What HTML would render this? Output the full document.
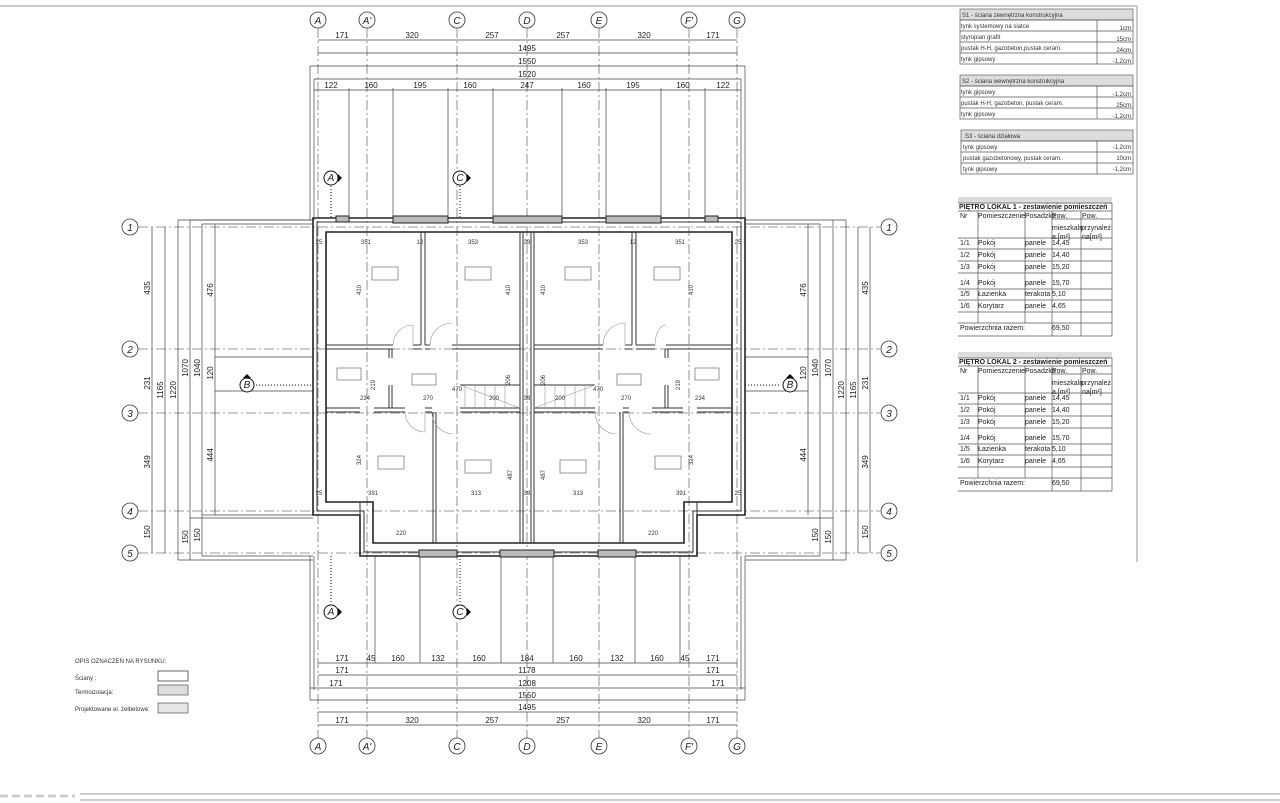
<!DOCTYPE html>
<html><head><meta charset="utf-8"><style>
html,body{margin:0;padding:0;background:#fff;width:1280px;height:803px;overflow:hidden}
svg{display:block;font-family:"Liberation Sans",sans-serif}
.t{font-size:8px;fill:#222}
.s{font-size:6px;fill:#333}
.ax{stroke:#777;stroke-width:.8;stroke-dasharray:10 3 2 3;fill:none}
.d{stroke:#444;stroke-width:.7;fill:none}
.w{stroke:#222;stroke-width:1.6;fill:none}
.w2{stroke:#333;stroke-width:1;fill:none}
.b{fill:#fff;stroke:#333;stroke-width:.8}
.bt{font-size:10px;font-style:italic;fill:#222;text-anchor:middle}
.tb{fill:none;stroke:#555;stroke-width:.7}
.tx{font-size:6px;fill:#333}
.rt{font-size:7px;fill:#222}
</style></head><body>
<svg width="1280" height="803" viewBox="0 0 1280 803">
<!-- frame lines -->
<line x1="0" y1="6" x2="1137" y2="6" stroke="#bbb" stroke-width="1.5"/>
<line x1="1137" y1="6" x2="1137" y2="562" stroke="#aaa" stroke-width="1.2"/>
<line x1="80" y1="794" x2="1280" y2="794" stroke="#ccc" stroke-width="2"/>
<line x1="80" y1="800" x2="1280" y2="800" stroke="#ccc" stroke-width="2"/>
<line x1="0" y1="796" x2="75" y2="796" stroke="#ccc" stroke-width="3" stroke-dasharray="8 4"/>

<!-- axes vertical -->
<g class="ax">
<line x1="318" y1="28" x2="318" y2="738"/><line x1="367" y1="28" x2="367" y2="738"/>
<line x1="457" y1="28" x2="457" y2="738"/><line x1="527" y1="28" x2="527" y2="738"/>
<line x1="599" y1="28" x2="599" y2="738"/><line x1="689" y1="28" x2="689" y2="738"/>
<line x1="737" y1="28" x2="737" y2="738"/>
<line x1="138" y1="227" x2="880" y2="227"/><line x1="138" y1="349" x2="880" y2="349"/>
<line x1="138" y1="413" x2="880" y2="413"/><line x1="138" y1="511" x2="880" y2="511"/>
<line x1="138" y1="553" x2="880" y2="553"/>
</g>
<!-- axis bubbles -->
<g>
<circle class="b" cx="318" cy="20" r="8"/><circle class="b" cx="367" cy="20" r="8"/><circle class="b" cx="457" cy="20" r="8"/><circle class="b" cx="527" cy="20" r="8"/><circle class="b" cx="599" cy="20" r="8"/><circle class="b" cx="689" cy="20" r="8"/><circle class="b" cx="737" cy="20" r="8"/>
<circle class="b" cx="318" cy="746" r="8"/><circle class="b" cx="367" cy="746" r="8"/><circle class="b" cx="457" cy="746" r="8"/><circle class="b" cx="527" cy="746" r="8"/><circle class="b" cx="599" cy="746" r="8"/><circle class="b" cx="689" cy="746" r="8"/><circle class="b" cx="737" cy="746" r="8"/>
<circle class="b" cx="130" cy="227" r="8"/><circle class="b" cx="130" cy="349" r="8"/><circle class="b" cx="130" cy="413" r="8"/><circle class="b" cx="130" cy="511" r="8"/><circle class="b" cx="130" cy="553" r="8"/>
<circle class="b" cx="889" cy="227" r="8"/><circle class="b" cx="889" cy="349" r="8"/><circle class="b" cx="889" cy="413" r="8"/><circle class="b" cx="889" cy="511" r="8"/><circle class="b" cx="889" cy="553" r="8"/>
</g>
<g class="bt">
<text x="318" y="24">A</text><text x="367" y="24">A'</text><text x="457" y="24">C</text><text x="527" y="24">D</text><text x="599" y="24">E</text><text x="689" y="24">F'</text><text x="737" y="24">G</text>
<text x="318" y="750">A</text><text x="367" y="750">A'</text><text x="457" y="750">C</text><text x="527" y="750">D</text><text x="599" y="750">E</text><text x="689" y="750">F'</text><text x="737" y="750">G</text>
<text x="130" y="231">1</text><text x="130" y="353">2</text><text x="130" y="417">3</text><text x="130" y="515">4</text><text x="130" y="557">5</text>
<text x="889" y="231">1</text><text x="889" y="353">2</text><text x="889" y="417">3</text><text x="889" y="515">4</text><text x="889" y="557">5</text>
</g>

<!-- top dims -->
<g class="d">
<line x1="318" y1="40" x2="737" y2="40"/><line x1="318" y1="53" x2="737" y2="53"/>
<line x1="310" y1="66" x2="745" y2="66"/><line x1="314" y1="79" x2="741" y2="79"/>
<line x1="314" y1="90" x2="741" y2="90"/>
<line x1="310" y1="66" x2="310" y2="220"/><line x1="745" y1="66" x2="745" y2="220"/>
<line x1="314" y1="79" x2="314" y2="220"/><line x1="741" y1="79" x2="741" y2="220"/>
<line x1="349" y1="88" x2="349" y2="218"/><line x1="393" y1="88" x2="393" y2="218"/><line x1="448" y1="88" x2="448" y2="218"/><line x1="493" y1="88" x2="493" y2="218"/><line x1="562" y1="88" x2="562" y2="218"/><line x1="606" y1="88" x2="606" y2="218"/><line x1="661" y1="88" x2="661" y2="218"/><line x1="705" y1="88" x2="705" y2="218"/>
<!-- bottom dims -->
<line x1="318" y1="663" x2="737" y2="663"/><line x1="318" y1="675" x2="737" y2="675"/>
<line x1="310" y1="688" x2="745" y2="688"/><line x1="310" y1="700" x2="745" y2="700"/>
<line x1="318" y1="712" x2="737" y2="712"/><line x1="318" y1="725" x2="737" y2="725"/>
<line x1="310" y1="556" x2="310" y2="700"/><line x1="745" y1="556" x2="745" y2="700"/>
<line x1="314" y1="556" x2="314" y2="690"/><line x1="741" y1="556" x2="741" y2="690"/>
<line x1="375" y1="556" x2="375" y2="663"/><line x1="420" y1="556" x2="420" y2="663"/><line x1="501" y1="556" x2="501" y2="663"/><line x1="553" y1="556" x2="553" y2="663"/><line x1="635" y1="556" x2="635" y2="663"/><line x1="680" y1="556" x2="680" y2="663"/>
<!-- left dims -->
<line x1="152" y1="227" x2="152" y2="553"/><line x1="165" y1="227" x2="165" y2="553"/>
<line x1="178" y1="220" x2="178" y2="560"/><line x1="190" y1="220" x2="190" y2="560"/>
<line x1="202" y1="224" x2="202" y2="556"/><line x1="215" y1="224" x2="215" y2="515"/>
<line x1="178" y1="220" x2="313" y2="220"/><line x1="190" y1="220" x2="313" y2="220"/><line x1="202" y1="224" x2="313" y2="224"/>
<line x1="178" y1="560" x2="313" y2="560"/><line x1="202" y1="556" x2="313" y2="556"/>
<line x1="190" y1="518" x2="313" y2="518"/><line x1="202" y1="515" x2="313" y2="515"/>
<line x1="215" y1="357" x2="313" y2="357"/><line x1="215" y1="391" x2="313" y2="391"/>
<!-- right dims -->
<line x1="870" y1="227" x2="870" y2="553"/><line x1="858" y1="227" x2="858" y2="553"/>
<line x1="846" y1="220" x2="846" y2="560"/><line x1="833" y1="220" x2="833" y2="560"/>
<line x1="820" y1="224" x2="820" y2="556"/><line x1="808" y1="224" x2="808" y2="515"/>
<line x1="745" y1="220" x2="846" y2="220"/><line x1="745" y1="224" x2="820" y2="224"/>
<line x1="745" y1="560" x2="846" y2="560"/><line x1="745" y1="556" x2="820" y2="556"/>
<line x1="745" y1="518" x2="833" y2="518"/><line x1="745" y1="357" x2="808" y2="357"/><line x1="745" y1="391" x2="808" y2="391"/>
</g>
<g class="t" text-anchor="middle">
<text x="342" y="38">171</text><text x="412" y="38">320</text><text x="492" y="38">257</text><text x="563" y="38">257</text><text x="644" y="38">320</text><text x="713" y="38">171</text>
<text x="527" y="51">1495</text><text x="527" y="64">1550</text><text x="527" y="77">1520</text>
<text x="331" y="88">122</text><text x="371" y="88">160</text><text x="420" y="88">195</text><text x="470" y="88">160</text><text x="527" y="88">247</text><text x="584" y="88">160</text><text x="633" y="88">195</text><text x="683" y="88">160</text><text x="723" y="88">122</text>
<text x="342" y="661">171</text><text x="371" y="661">45</text><text x="398" y="661">160</text><text x="438" y="661">132</text><text x="479" y="661">160</text><text x="527" y="661">184</text><text x="576" y="661">160</text><text x="617" y="661">132</text><text x="657" y="661">160</text><text x="685" y="661">45</text><text x="713" y="661">171</text>
<text x="342" y="673">171</text><text x="527" y="673">1178</text><text x="713" y="673">171</text>
<text x="336" y="686">171</text><text x="527" y="686">1208</text><text x="718" y="686">171</text>
<text x="527" y="698">1550</text><text x="527" y="710">1495</text>
<text x="342" y="723">171</text><text x="412" y="723">320</text><text x="492" y="723">257</text><text x="563" y="723">257</text><text x="644" y="723">320</text><text x="713" y="723">171</text>
</g>
<g class="t" text-anchor="middle">
<text transform="translate(150,288) rotate(-90)">435</text><text transform="translate(150,383) rotate(-90)">231</text><text transform="translate(150,462) rotate(-90)">349</text><text transform="translate(150,532) rotate(-90)">150</text>
<text transform="translate(163,390) rotate(-90)">1165</text><text transform="translate(176,390) rotate(-90)">1220</text><text transform="translate(188,368) rotate(-90)">1070</text><text transform="translate(188,537) rotate(-90)">150</text>
<text transform="translate(200,368) rotate(-90)">1040</text><text transform="translate(200,535) rotate(-90)">150</text>
<text transform="translate(213,290) rotate(-90)">476</text><text transform="translate(213,373) rotate(-90)">120</text><text transform="translate(213,455) rotate(-90)">444</text>
<text transform="translate(868,288) rotate(-90)">435</text><text transform="translate(868,383) rotate(-90)">231</text><text transform="translate(868,462) rotate(-90)">349</text><text transform="translate(868,532) rotate(-90)">150</text>
<text transform="translate(856,390) rotate(-90)">1165</text><text transform="translate(844,390) rotate(-90)">1220</text><text transform="translate(831,368) rotate(-90)">1070</text><text transform="translate(831,537) rotate(-90)">150</text>
<text transform="translate(818,368) rotate(-90)">1040</text><text transform="translate(818,535) rotate(-90)">150</text>
<text transform="translate(806,290) rotate(-90)">476</text><text transform="translate(806,373) rotate(-90)">120</text><text transform="translate(806,455) rotate(-90)">444</text>
</g>

<!-- building -->
<path class="w" d="M313,218 H745 V515 H697 V556 H360 V515 H313 Z"/>
<path class="w2" d="M317,222 H741 V511 H693 V552 H364 V511 H317 Z"/>
<path class="w" d="M326,232 H732 V502 H684 V543 H373 V502 H326 Z"/>
<g fill="#bbb" stroke="#222" stroke-width="1">
<rect x="336" y="216" width="13" height="6"/><rect x="393" y="216" width="55" height="7"/><rect x="493" y="216" width="69" height="7"/><rect x="606" y="216" width="55" height="7"/><rect x="705" y="216" width="13" height="6"/>
<rect x="419" y="550" width="38" height="7"/><rect x="500" y="550" width="54" height="7"/><rect x="598" y="550" width="38" height="7"/>
</g>
<g class="w2">
<line x1="421" y1="232" x2="421" y2="345"/><line x1="425" y1="232" x2="425" y2="345"/>
<line x1="632" y1="232" x2="632" y2="345"/><line x1="636" y1="232" x2="636" y2="345"/>
<line x1="520" y1="232" x2="520" y2="543"/><line x1="523" y1="232" x2="523" y2="543"/>
<line x1="531" y1="232" x2="531" y2="543"/><line x1="534" y1="232" x2="534" y2="543"/>
<path d="M326,345 H393 M413,345 H421 M425,345 H430 M452,345 H520 M534,345 H603 M625,345 H632 M636,345 H655 M666,345 H732"/>
<path d="M326,349 H393 M413,349 H421 M425,349 H430 M452,349 H520 M534,349 H603 M625,349 H632 M636,349 H655 M666,349 H732"/>
<path d="M326,408 H360 M374,408 H405 M425,408 H432 M460,408 H520 M534,408 H595 M623,408 H629 M652,408 H683 M697,408 H732"/>
<path d="M326,412 H360 M374,412 H405 M425,412 H432 M460,412 H520 M534,412 H595 M623,412 H629 M652,412 H683 M697,412 H732"/>
<line x1="433" y1="412" x2="433" y2="543"/><line x1="436" y1="412" x2="436" y2="543"/>
<line x1="620" y1="412" x2="620" y2="543"/><line x1="623" y1="412" x2="623" y2="543"/>
<path d="M389,349 V358 M392,349 V358 M389,385 V408 M392,385 V408"/>
<path d="M665,349 V358 M668,349 V358 M665,385 V408 M668,385 V408"/>
<path d="M460,385 H520 V408 M534,385 H595"/>
<path d="M326,502 V502 M360,502 V515 M697,502 V515"/>
</g>
<!-- room labels -->
<g fill="#fff" stroke="#555" stroke-width=".6">
<rect x="372" y="267" width="26" height="13"/><rect x="465" y="267" width="26" height="13"/><rect x="565" y="267" width="26" height="13"/><rect x="654" y="267" width="26" height="13"/>
<rect x="378" y="456" width="26" height="13"/><rect x="465" y="460" width="26" height="13"/><rect x="560" y="460" width="26" height="13"/><rect x="655" y="456" width="26" height="13"/>
<rect x="337" y="368" width="24" height="12"/><rect x="412" y="374" width="24" height="11"/><rect x="617" y="374" width="24" height="11"/><rect x="695" y="368" width="24" height="12"/>
</g>
<!-- doors -->
<g stroke="#999" stroke-width=".6" fill="none">
<path d="M393,345 A20,20 0 0,1 413,325 V345"/><path d="M430,345 A22,22 0 0,1 452,323"/>
<path d="M603,345 A22,22 0 0,1 625,323 V345"/><path d="M655,345 A11,20 0 0,1 666,325"/>
<path d="M405,412 A20,20 0 0,0 425,432 V412"/><path d="M432,412 A22,22 0 0,0 454,434"/>
<path d="M595,412 A22,22 0 0,0 617,434"/><path d="M629,412 A22,22 0 0,0 651,434"/>
<path d="M460,385 L520,408 M534,408 L595,385"/>
<path d="M465,385 V408 M475,385 V408 M485,385 V408 M495,385 V408 M505,385 V408 M545,385 V408 M555,385 V408 M565,385 V408 M575,385 V408 M585,385 V408"/>
</g>
<g class="s" text-anchor="middle" fill="#333">
<text x="366" y="244">351</text><text x="473" y="244">353</text><text x="527" y="244">38</text><text x="583" y="244">353</text><text x="680" y="244">351</text>
<text x="319" y="244">25</text><text x="738" y="244">25</text><text x="420" y="244">12</text><text x="633" y="244">12</text>
<text x="365" y="400">234</text><text x="428" y="400">270</text><text x="457" y="391">470</text><text x="494" y="400">200</text><text x="527" y="400">38</text><text x="560" y="400">200</text><text x="598" y="391">470</text><text x="626" y="400">270</text><text x="700" y="400">234</text>
<text x="373" y="495">391</text><text x="476" y="495">313</text><text x="578" y="495">313</text><text x="681" y="495">391</text>
<text x="319" y="495">25</text><text x="738" y="495">25</text><text x="527" y="495">38</text>
<text x="401" y="535">220</text><text x="653" y="535">220</text>
<text transform="translate(361,290) rotate(-90)">410</text><text transform="translate(510,290) rotate(-90)">410</text><text transform="translate(545,290) rotate(-90)">410</text><text transform="translate(693,290) rotate(-90)">410</text>
<text transform="translate(361,460) rotate(-90)">324</text><text transform="translate(512,475) rotate(-90)">487</text><text transform="translate(545,475) rotate(-90)">487</text><text transform="translate(693,460) rotate(-90)">324</text>
<text transform="translate(375,385) rotate(-90)">219</text><text transform="translate(680,385) rotate(-90)">219</text>
<text transform="translate(510,380) rotate(-90)">206</text><text transform="translate(545,380) rotate(-90)">206</text>
</g>
<!-- section markers -->
<g stroke="#111" stroke-width="1" fill="#fff">
<line x1="331" y1="186" x2="331" y2="218" stroke-dasharray="1 2"/>
<line x1="460" y1="186" x2="460" y2="218" stroke-dasharray="1 2"/>
<line x1="331" y1="556" x2="331" y2="604" stroke-dasharray="1 2"/>
<line x1="460" y1="556" x2="460" y2="604" stroke-dasharray="1 2"/>
<line x1="256" y1="385" x2="313" y2="385" stroke-dasharray="1 2"/>
<line x1="745" y1="385" x2="781" y2="385" stroke-dasharray="1 2"/>
<circle cx="331" cy="178" r="7"/><circle cx="460" cy="178" r="7"/><circle cx="331" cy="612" r="7"/><circle cx="460" cy="612" r="7"/><circle cx="247" cy="385" r="7"/><circle cx="790" cy="385" r="7"/>
</g>
<g fill="#111">
<path d="M338,174 L342,178 L338,182Z"/><path d="M467,174 L471,178 L467,182Z"/><path d="M338,608 L342,612 L338,616Z"/><path d="M467,608 L471,612 L467,616Z"/>
<path d="M243,378 L247,374 L251,378Z"/><path d="M786,378 L790,374 L794,378Z"/>
</g>
<g class="bt" font-size="9">
<text x="331" y="181">A</text><text x="460" y="181">C</text><text x="331" y="615">A</text><text x="460" y="615">C</text><text x="247" y="388">B</text><text x="790" y="388">B</text>
</g>

<!-- legend -->
<g class="tx" font-size="7">
<text x="75" y="663">OPIS OZNACZEŃ NA RYSUNKU:</text>
<text x="75" y="680">Ściany :</text>
<text x="75" y="694">Termoizolacja:</text>
<text x="75" y="711">Projektowane el. żelbetowe:</text>
</g>
<rect x="158" y="671" width="30" height="10" fill="#fff" stroke="#444" stroke-width=".8"/>
<rect x="158" y="685" width="30" height="10" fill="#ddd" stroke="#666" stroke-width=".8"/>
<rect x="158" y="703" width="30" height="10" fill="#e6e6e6" stroke="#666" stroke-width=".8"/>

<!-- wall tables -->
<g>
<rect x="960" y="9" width="173" height="11" fill="#ddd" stroke="#666" stroke-width=".7"/>
<rect class="tb" x="960" y="20" width="173" height="44"/>
<path class="tb" d="M960,31 H1133 M960,42 H1133 M960,53 H1133 M1097,20 V64"/>
<rect x="960" y="75" width="173" height="11" fill="#ddd" stroke="#666" stroke-width=".7"/>
<rect class="tb" x="960" y="86" width="173" height="33"/>
<path class="tb" d="M960,97 H1133 M960,108 H1133 M1097,86 V119"/>
<rect x="961" y="130" width="172" height="11" fill="#ddd" stroke="#666" stroke-width=".7"/>
<rect class="tb" x="961" y="141" width="172" height="33"/>
<path class="tb" d="M961,152 H1133 M961,163 H1133 M1097,141 V174"/>
</g>
<g class="tx" font-size="5.5">
<text x="962" y="17">S1 - ściana zewnętrzna konstrukcyjna</text>
<text x="961" y="28">tynk systemowy na siatce</text><text x="1131" y="30" text-anchor="end">1cm</text>
<text x="961" y="39">styropian grafit</text><text x="1131" y="41" text-anchor="end">15cm</text>
<text x="961" y="50">pustak H-H, gazobeton,pustak ceram.</text><text x="1131" y="52" text-anchor="end">24cm</text>
<text x="961" y="61">tynk gipsowy</text><text x="1131" y="63" text-anchor="end">-1,2cm</text>
<text x="962" y="83">S2 - ściana wewnętrzna konstrukcyjna</text>
<text x="961" y="94">tynk gipsowy</text><text x="1131" y="96" text-anchor="end">-1,2cm</text>
<text x="961" y="105">pustak H-H, gazobeton, pustak ceram.</text><text x="1131" y="107" text-anchor="end">25cm</text>
<text x="961" y="116">tynk gipsowy</text><text x="1131" y="118" text-anchor="end">-1,2cm</text>
<text x="965" y="138">S3 - ściana działowa</text>
<text x="963" y="149">tynk gipsowy</text><text x="1131" y="149" text-anchor="end">-1,2cm</text>
<text x="963" y="160">pustak gazobetonowy, pustak ceram.</text><text x="1131" y="160" text-anchor="end">10cm</text>
<text x="963" y="171">tynk gipsowy</text><text x="1131" y="171" text-anchor="end">-1,2cm</text>
</g>

<!-- room tables -->
<g id="rt1">
<rect x="958" y="197" width="154" height="6" fill="#ddd"/>
<path class="tb" stroke="#bbb" d="M958,203 H1112 M958,211 H1112 M1052,219 H1112 M958,238 H1112 M958,249 H1112 M958,261 H1112 M958,273 H1112 M958,289 H1112 M958,300 H1112 M958,312 H1112 M958,323 H1112 M958,336 H1112 M978,211 V323 M1025,211 V323 M1052,211 V336 M1081,211 V336 M1112,203 V336"/>
<g class="rt">
<text x="959" y="209" font-weight="bold">PIĘTRO LOKAL 1 - zestawienie pomieszczeń</text>
<text x="960" y="218">Nr</text><text x="978" y="218">Pomieszczenie</text><text x="1025" y="218">Posadzka</text><text x="1052" y="218">Pow.</text><text x="1082" y="218">Pow.</text>
<text x="1052" y="230">mieszkaln</text><text x="1081" y="230">przynależ</text>
<text x="1052" y="239">a.[m²]</text><text x="1082" y="239">na[m²]</text>
<text x="960" y="245">1/1</text><text x="978" y="245">Pokój</text><text x="1025" y="245">panele</text><text x="1052" y="245">14,45</text>
<text x="960" y="257">1/2</text><text x="978" y="257">Pokój</text><text x="1025" y="257">panele</text><text x="1052" y="257">14,40</text>
<text x="960" y="269">1/3</text><text x="978" y="269">Pokój</text><text x="1025" y="269">panele</text><text x="1052" y="269">15,20</text>
<text x="960" y="285">1/4</text><text x="978" y="285">Pokój</text><text x="1025" y="285">panele</text><text x="1052" y="285">15,70</text>
<text x="960" y="296">1/5</text><text x="978" y="296">Łazienka</text><text x="1025" y="296">terakota</text><text x="1052" y="296">5,10</text>
<text x="960" y="308">1/6</text><text x="978" y="308">Korytarz</text><text x="1025" y="308">panele</text><text x="1052" y="308">4,65</text>
<text x="960" y="330">Powierzchnia razem:</text><text x="1052" y="330">69,50</text>
</g>
</g>
<g transform="translate(0,155)">
<rect x="958" y="197" width="154" height="6" fill="#ddd"/>
<path class="tb" stroke="#bbb" d="M958,203 H1112 M958,211 H1112 M1052,219 H1112 M958,238 H1112 M958,249 H1112 M958,261 H1112 M958,273 H1112 M958,289 H1112 M958,300 H1112 M958,312 H1112 M958,323 H1112 M958,336 H1112 M978,211 V323 M1025,211 V323 M1052,211 V336 M1081,211 V336 M1112,203 V336"/>
<g class="rt">
<text x="959" y="209" font-weight="bold">PIĘTRO LOKAL 2 - zestawienie pomieszczeń</text>
<text x="960" y="218">Nr</text><text x="978" y="218">Pomieszczenie</text><text x="1025" y="218">Posadzka</text><text x="1052" y="218">Pow.</text><text x="1082" y="218">Pow.</text>
<text x="1052" y="230">mieszkaln</text><text x="1081" y="230">przynależ</text>
<text x="1052" y="239">a.[m²]</text><text x="1082" y="239">na[m²]</text>
<text x="960" y="245">1/1</text><text x="978" y="245">Pokój</text><text x="1025" y="245">panele</text><text x="1052" y="245">14,45</text>
<text x="960" y="257">1/2</text><text x="978" y="257">Pokój</text><text x="1025" y="257">panele</text><text x="1052" y="257">14,40</text>
<text x="960" y="269">1/3</text><text x="978" y="269">Pokój</text><text x="1025" y="269">panele</text><text x="1052" y="269">15,20</text>
<text x="960" y="285">1/4</text><text x="978" y="285">Pokój</text><text x="1025" y="285">panele</text><text x="1052" y="285">15,70</text>
<text x="960" y="296">1/5</text><text x="978" y="296">Łazienka</text><text x="1025" y="296">terakota</text><text x="1052" y="296">5,10</text>
<text x="960" y="308">1/6</text><text x="978" y="308">Korytarz</text><text x="1025" y="308">panele</text><text x="1052" y="308">4,65</text>
<text x="960" y="330">Powierzchnia razem:</text><text x="1052" y="330">69,50</text>
</g>
</g>
</svg>
</body></html>
